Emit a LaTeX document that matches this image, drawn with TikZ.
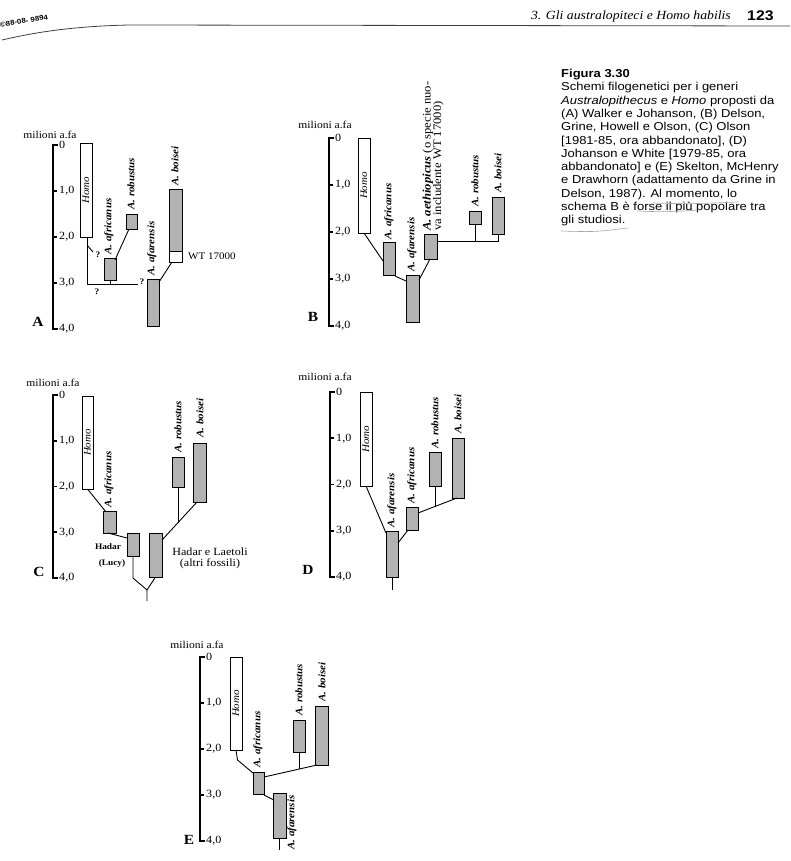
\documentclass[tikz,border=0pt]{standalone}
\usepackage{fontspec}
\setmainfont{Liberation Serif}[FakeStretch=1.1]
\setsansfont{Liberation Sans}[FakeStretch=1.13]
\tikzset{
 sp/.style={draw, line width=0.9pt, fill=black!30, inner sep=0, outer sep=0},
 hb/.style={draw, line width=0.9pt, fill=white, inner sep=0, outer sep=0},
 lab/.style={font=\fontsize{10}{10}\selectfont\bfseries\itshape, rotate=90, anchor=west, inner sep=0},
 homo/.style={font=\fontsize{10}{10}\selectfont\itshape, rotate=90, inner sep=0},
 con/.style={line width=0.9pt},
 ax/.style={line width=2.2pt},
 tk/.style={font=\fontsize{11}{11}\selectfont, anchor=west, inner sep=0},
 txt/.style={font=\fontsize{11}{11}\selectfont, inner sep=0},
 small/.style={font=\fontsize{8.5}{9}\selectfont\bfseries, inner sep=0},
 mil/.style={font=\fontsize{10.5}{11}\selectfont, inner sep=0},
 plet/.style={font=\fontsize{14}{14}\selectfont\bfseries, inner sep=0},
 qm/.style={font=\fontsize{8.5}{9}\selectfont\bfseries, inner sep=0},
 pencil/.style={draw=black!35, line width=0.6pt},
}
\newcommand\mybox[6]{\node[#6, minimum width={#4-#2}, minimum height={#5-#3}, anchor=north west] (#1) at (#2,-#3) {};}
\newcommand\myaxis[4]{%
 \draw[ax] ({#2+5},-#3) -- (#2,-#3) -- (#2,{-#3-4*#4}) -- ({#2+5},{-#3-4*#4});
 \draw[line width=1.6pt] (#2,{-#3-1*#4}) -- ({#2+4},{-#3-1*#4});
 \draw[line width=1.6pt] (#2,{-#3-2*#4}) -- ({#2+4},{-#3-2*#4});
 \draw[line width=1.6pt] (#2,{-#3-3*#4}) -- ({#2+4},{-#3-3*#4});
 \node[tk] (#1n0) at ({#2+6},{-#3-0*#4}) {0};
 \node[tk] (#1n1) at ({#2+6},{-#3-1*#4}) {1,0};
 \node[tk] (#1n2) at ({#2+6},{-#3-2*#4}) {2,0};
 \node[tk] (#1n3) at ({#2+6},{-#3-3*#4}) {3,0};
 \node[tk] (#1n4) at ({#2+6},{-#3-4*#4}) {4,0};
}
\begin{document}
\begin{tikzpicture}[x=1pt,y=1pt]
\useasboundingbox (0,0) rectangle (790,-861);
\fill[white] (0,0) rectangle (790,-861);

% ---------- header ----------
\node[font=\sffamily\bfseries\fontsize{7}{7}\selectfont, rotate=9, inner sep=0] (isbn) at (24,-21) {\textcopyright 88-08- 9894};
\coordinate (hr0) at (2,-40);
\coordinate (hr1) at (130,-25);
\coordinate (hr2) at (790,-26);
\draw[line width=0.8pt, black!75] (hr0) .. controls (40,-31) and (80,-26) .. (hr1) -- (hr2);
\node[font=\fontsize{12.5}{13}\selectfont\itshape, anchor=east, inner sep=0] (htitle) at (731,-16) {3. Gli australopiteci e Homo habilis};
\node[font=\sffamily\bfseries\fontsize{14}{14}\selectfont, anchor=west, inner sep=0] (hpage) at (747,-16) {123};

% ---------- caption ----------
\node[font=\sffamily\fontsize{11.5}{13.3}\selectfont, anchor=north west, align=left, inner sep=0] (cap) at (561,-69) {%
\textbf{Figura 3.30}\\
Schemi filogenetici per i generi\\
\textit{Australopithecus} e \textit{Homo} proposti da\\
(A) Walker e Johanson, (B) Delson,\\
Grine, Howell e Olson, (C) Olson\\
{[}1981-85, ora abbandonato], (D)\\
Johanson e White {[}1979-85, ora\\
abbandonato] e (E) Skelton, McHenry\\
e Drawhorn (adattamento da Grine in\\
Delson, 1987). Al momento, lo\\
schema B è forse il più popolare tra\\
gli studiosi.};
\coordinate (u1a) at (653,-203); \coordinate (u1b) at (738,-202);
\coordinate (u2a) at (637,-211); \coordinate (u2b) at (700,-210);
\coordinate (u3a) at (561,-231); \coordinate (u3b) at (628,-228);
\draw[pencil] (u1a) .. controls (690,-204) .. (u1b);
\draw[pencil] (u2a) .. controls (665,-212) .. (u2b);
\draw[pencil] (u3a) .. controls (595,-232) .. (u3b);

% ---------- panel A ----------
\myaxis{axA}{53}{145}{46}
\node[mil] (milA) at (50,-135) {milioni a.fa};
\node[plet] (letA) at (38,-322) {A};
\mybox{AHomo}{80}{143}{92}{237}{hb}
\node[homo] (AHomoL) at (AHomo.center) {Homo};
\mybox{Aafri}{104}{258}{116}{280}{sp}
\node[lab] (AafriL) at (109,-255) {A. africanus};
\mybox{Arob}{126}{214}{137}{229}{sp}
\node[lab] (ArobL) at (131,-210) {A. robustus};
\mybox{Aafar}{147}{279}{159}{326}{sp}
\node[lab] (AafarL) at (152,-276) {A. afarensis};
\mybox{Aboi}{169}{189}{182}{251}{sp}
\mybox{AWT}{169}{251}{182}{262}{hb}
\node[lab] (AboiL) at (175,-186) {A. boisei};
\node[font=\fontsize{10}{10}\selectfont, anchor=west, inner sep=0] (AWTL) at (188,-256) {WT 17000};
\coordinate (Aj1) at (87,-284);
\coordinate (Aj2) at (138,-284);
\coordinate (Ab) at (87,-245);
\coordinate (Aq) at (93,-252);
\draw[con] (AHomo.south -| Aj1) -- (Aj1) -- (Aj2);
\draw[con] (Ab) -- (Aq);
\node[qm] (Aq1) at (98,-255) {?};
\node[qm] (Aq2) at (97,-292) {?};
\node[qm] (Aq3) at (142,-282) {?};
\draw[con] (Aafri.south) -- (Aafri.south |- Aj1);
\draw[con] ([shift={(-1,-2)}]Aafri.north east) -- ([xshift=3]Arob.south west);
\draw[con] ([yshift=-3]Aafar.north east) -- ([xshift=3]AWT.south west);

% ---------- panel B ----------
\myaxis{axB}{329}{138}{47}
\node[mil] (milB) at (325,-125) {milioni a.fa};
\node[plet] (letB) at (313,-317) {B};
\mybox{BHomo}{358}{138}{370}{233}{hb}
\node[homo] (BHomoL) at (BHomo.center) {Homo};
\mybox{Bafri}{383}{242}{395}{275}{sp}
\node[lab] (BafriL) at (389,-240) {A. africanus};
\mybox{Bafar}{406}{275}{419}{322}{sp}
\node[lab] (BafarL) at (412,-272) {A. afarensis};
\mybox{Baeth}{424}{234}{437}{259}{sp}
\node[font=\fontsize{11.5}{10.5}\selectfont, rotate=90, anchor=west, align=left, inner sep=0] (BaethL) at (433,-231) {\textbf{\textit{A. aethiopicus}} (o specie nuo-\\va includente WT 17000)};
\mybox{Brob}{469}{211}{481}{224}{sp}
\node[lab] (BrobL) at (475,-207) {A. robustus};
\mybox{Bboi}{492}{197}{504}{234}{sp}
\node[lab] (BboiL) at (498,-193) {A. boisei};
\coordinate (Bh) at (498,-241);
\draw[con] (BHomo.south) -- ([yshift=-19]Bafri.north west);
\draw[con] ([yshift=-1]Bafri.south east) -- ([yshift=-6]Bafar.north west);
\draw[con] ([yshift=-5]Bafar.north east) -- ([xshift=6]Baeth.south west);
\draw[con] ([yshift=-7]Baeth.north east) -- (Bh) -- (Bboi.south);
\draw[con] (Brob.south) -- (Brob.south |- Bh);

% ---------- panel C ----------
\myaxis{axC}{53}{395}{45.75}
\node[mil] (milC) at (53,-383) {milioni a.fa};
\node[plet] (letC) at (39,-572) {C};
\mybox{CHomo}{82}{396}{93}{489}{hb}
\node[homo] (CHomoL) at (CHomo.center) {Homo};
\mybox{Cafri}{103}{511}{116}{533}{sp}
\node[lab] (CafriL) at (109,-508) {A. africanus};
\mybox{CLucy}{127}{533}{139}{556}{sp}
\mybox{Cafar}{149}{533}{162}{577}{sp}
\mybox{Crob}{172}{457}{184}{487}{sp}
\node[lab] (CrobL) at (178,-453) {A. robustus};
\mybox{Cboi}{193}{443}{206}{502}{sp}
\node[lab] (CboiL) at (200,-438) {A. boisei};
\node[small] (CHad) at (108,-547) {Hadar};
\node[small] (CLuc) at (112,-563) {(Lucy)};
\node[txt] (CHL) at (210,-552) {Hadar e Laetoli};
\node[txt] (CAF) at (210,-564) {(altri fossili)};
\coordinate (Ck) at (133,-578);
\coordinate (Cj) at (147,-590);
\coordinate (Cend) at (147,-601);
\coordinate (Cr) at (178,-522.6);
\draw[con] (CHomo.south) -- ([shift={(3,-1)}]Cafri.north west);
\draw[con] ([xshift=5]Cafri.south west) -- ([yshift=-5]CLucy.north west);
\draw[con] (CLucy.south) -- (Ck) -- (Cj);
\draw[con] (Cafar.south) -- (Cj) -- (Cend);
\draw[con] ([yshift=-7]Cafar.north east) -- ([xshift=4]Cboi.south west);
\draw[con] (Crob.south) -- (Cr);

% ---------- panel D ----------
\myaxis{axD}{330}{392}{46.25}
\node[mil] (milD) at (325,-377) {milioni a.fa};
\node[plet] (letD) at (308,-570) {D};
\mybox{DHomo}{360}{392}{372}{486}{hb}
\node[homo] (DHomoL) at (DHomo.center) {Homo};
\mybox{Dafar}{386}{531}{398}{577}{sp}
\node[lab] (DafarL) at (392,-528) {A. afarensis};
\mybox{Dafri}{406}{507}{418}{530}{sp}
\node[lab] (DafriL) at (412,-504) {A. africanus};
\mybox{Drob}{429}{452}{441}{486}{sp}
\node[lab] (DrobL) at (435,-449) {A. robustus};
\mybox{Dboi}{452}{438}{464}{498}{sp}
\node[lab] (DboiL) at (458,-434) {A. boisei};
\coordinate (Dend) at (392,-590);
\coordinate (Dr) at (435,-506.5);
\draw[con] (DHomo.south) -- ([yshift=-2]Dafar.north west);
\draw[con] (Dafar.south) -- (Dend);
\draw[con] ([yshift=-12]Dafar.north east) -- ([xshift=2]Dafri.south west);
\draw[con] ([yshift=-6]Dafri.north east) -- ([xshift=5]Dboi.south west);
\draw[con] (Drob.south) -- (Dr);

% ---------- panel E ----------
\myaxis{axE}{200}{657}{46}
\node[mil] (milE) at (197,-645) {milioni a.fa};
\node[plet] (letE) at (189,-840) {E};
\mybox{EHomo}{230}{657}{242}{750}{hb}
\node[homo] (EHomoL) at (EHomo.center) {Homo};
\mybox{Eafri}{253}{772}{264}{794}{sp}
\node[lab] (EafriL) at (258,-768) {A. africanus};
\mybox{Eafar}{273}{793}{286}{838}{sp}
\node[lab] (EafarL) at (292,-850) {A. afarensis};
\mybox{Erob}{293}{720}{305}{752}{sp}
\node[lab] (ErobL) at (299,-716) {A. robustus};
\mybox{Eboi}{315}{706}{328}{765}{sp}
\node[lab] (EboiL) at (322,-702) {A. boisei};
\coordinate (Ek) at (237.5,-760);
\coordinate (Eend) at (279.5,-850);
\coordinate (Er) at (299,-769);
\draw[con] (EHomo.south) -- (Ek) -- ([yshift=-1]Eafri.north west);
\draw[con] ([yshift=-1]Eafri.south east) -- ([shift={(1,-7)}]Eafar.north west);
\draw[con] (Eafar.south) -- (Eend);
\draw[con] ([yshift=-5]Eafri.north east) -- ([xshift=2]Eboi.south west);
\draw[con] (Erob.south) -- (Er);
\end{tikzpicture}
\end{document}
